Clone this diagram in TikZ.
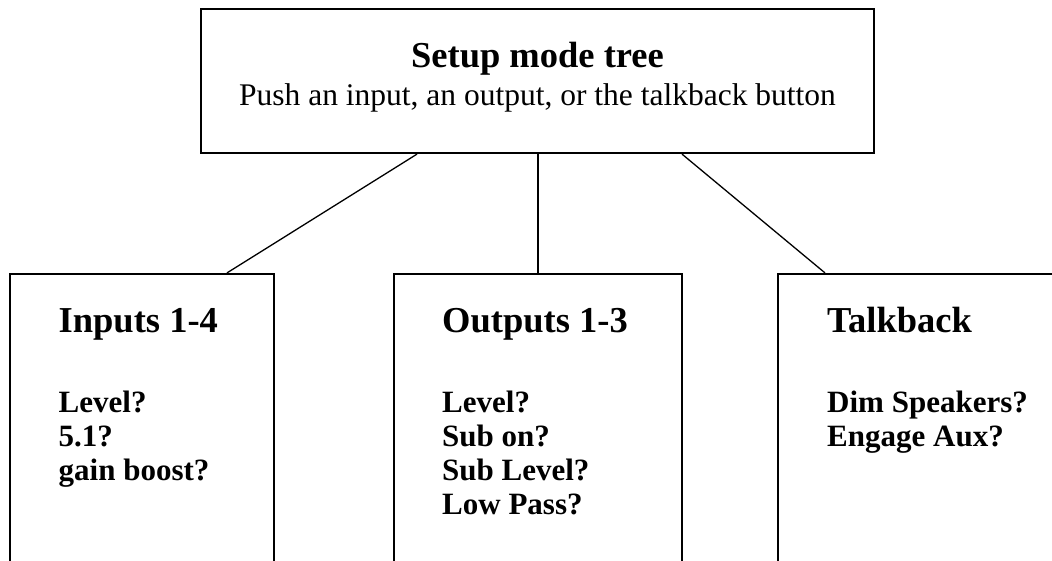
\documentclass[tikz,border=0pt]{standalone}
\usepackage{fontspec}
\setmainfont{Liberation Serif}
\usepackage{tikz}

\begin{document}
\begin{tikzpicture}[x=1pt, y=-1pt,
	box/.style = {draw, line width=2.2pt, inner sep=0pt},
	head/.style = {anchor=base west, inner sep=0pt, font=\fontsize{36.5}{40}\selectfont\bfseries},
	item/.style = {anchor=base west, inner sep=0pt, font=\fontsize{31}{34}\selectfont\bfseries},
	link/.style = {line width=1.3pt}]
	\useasboundingbox (0,0) rectangle (1052,560);
	\clip (0,0) rectangle (1052,560);
	\node[box, minimum width=673pt, minimum height=144pt] (top) at (537.5,81) {};
	\node[anchor=base, inner sep=0pt, font=\fontsize{36.5}{40}\selectfont\bfseries] (title) at (537.5,67) {Setup mode tree};
	\node[anchor=base, inner sep=0pt, font=\fontsize{31.5}{34}\selectfont] (hint) at (537.5,105) {Push an input, an output, or the talkback button};
	\node[box, minimum width=264pt, minimum height=320pt] (inputs) at (142,434) {};
	\node[box, minimum width=288pt, minimum height=320pt] (outputs) at (538,434) {};
	\node[box, minimum width=322pt, minimum height=320pt] (talk) at (939,434) {};
	\node[head] (inputs-t) at (58.5,332) {Inputs 1-4};
	\node[head] (outputs-t) at (442,332) {Outputs 1-3};
	\node[head] (talk-t) at (827,332) {Talkback};
	\foreach \txt [count=\i] in {Level?, 5.1?, gain boost?}
		\node[item] (inputs-\i) at (58.5,378+34*\i) {\txt};
	\foreach \txt [count=\i] in {Level?, Sub on?, Sub Level?, Low Pass?}
		\node[item] (outputs-\i) at (442,378+34*\i) {\txt};
	\foreach \txt [count=\i] in {Dim Speakers?, Engage Aux?}
		\node[item] (talk-\i) at (827,378+34*\i) {\txt};
	\draw[link] ([xshift=-120.5pt]top.south) -- ([xshift=85pt]inputs.north);
	\draw[link] (top.south -| outputs.north) -- (outputs.north);
	\draw[link] ([xshift=144.5pt]top.south) -- ([xshift=-114pt]talk.north);
\end{tikzpicture}
\end{document}
